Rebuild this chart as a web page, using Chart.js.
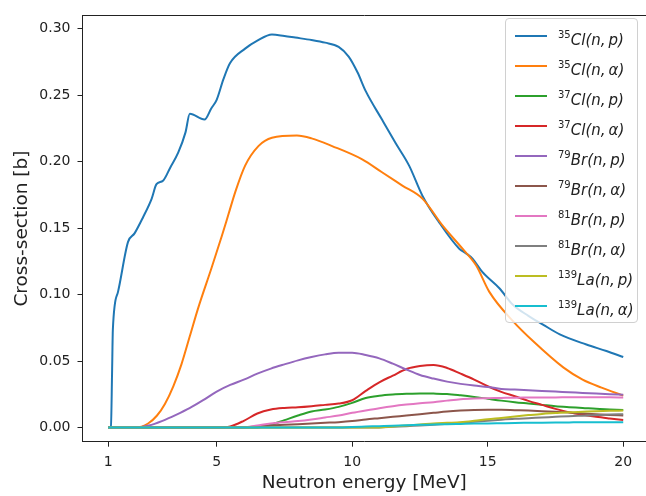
<!DOCTYPE html>
<html>
<head>
<meta charset="utf-8">
<title>Cross-sections</title>
<script src="https://cdn.jsdelivr.net/npm/chart.js"></script>
<style>
body { margin:0; background:#fff; }
#wrap { position:relative; width:646px; height:496px; }
#chart { position:absolute; left:0; top:0; }
#legend {
  position:absolute; left:505px; top:18px; width:133px; height:305px; box-sizing:border-box;
  background:rgba(255,255,255,0.8); border:1px solid #d0d0d0; border-radius:4px;
  font-family:'DejaVu Sans', sans-serif; font-size:15px; color:#222;
}
.row { position:absolute; left:0; width:100%; height:20px; }
.swatch { position:absolute; left:9px; top:9px; width:32px; height:2px; }
.txt { position:absolute; left:52px; top:0; line-height:20px; white-space:nowrap; }
.txt sup { font-size:10px; font-style:normal; position:relative; top:-1px; }
</style>
</head>
<body>
<div id="wrap">
  <canvas id="chart" width="646" height="496"></canvas>
  <div id="legend"></div>
</div>
<script>
// -------- DATA --------
const massNumbers = ['35', '35', '37', '37', '79', '79', '81', '81', '139', '139'];
const elements = ['Cl', 'Cl', 'Cl', 'Cl', 'Br', 'Br', 'Br', 'Br', 'La', 'La'];
const products = ['p', 'α', 'p', 'α', 'p', 'α', 'p', 'α', 'p', 'α'];
const colors = ['#1f77b4', '#ff7f0e', '#2ca02c', '#d62728', '#9467bd',
                '#8c564b', '#e377c2', '#7f7f7f', '#bcbd22', '#17becf'];

const xTickValues = [1, 5, 10, 15, 20];
const yTickValues = [0, 0.05, 0.10, 0.15, 0.20, 0.25, 0.30];

// 35Cl(n,p)
const cl35npE = [1.0, 1.1, 1.14, 1.17, 1.36, 1.73, 1.97, 2.28, 2.6, 2.78, 3.02, 3.3, 3.58, 3.85, 4.01, 4.55,
  4.8, 5.0, 5.25, 5.49, 6.05, 6.5, 7.04, 7.5, 7.9, 8.5, 9.0, 9.5, 9.87, 10.2, 10.5, 11.1, 11.6, 12.1,
  12.6, 13.2, 13.95, 14.2, 14.44, 14.8, 15.43, 15.93, 16.5, 17.04, 17.66, 18.64, 19.38, 20.0];
const cl35np = [0, 0.0007, 0.04, 0.0737, 0.102, 0.1396, 0.146, 0.158, 0.172, 0.183, 0.1856, 0.196, 0.2067,
  0.222, 0.236, 0.2316, 0.240, 0.2465, 0.262, 0.274, 0.285, 0.291, 0.2957, 0.2945, 0.2933, 0.2915, 0.2895,
  0.2863, 0.279, 0.267, 0.253, 0.2316, 0.214, 0.197, 0.174, 0.1545, 0.1345, 0.131, 0.127, 0.117, 0.1047,
  0.0923, 0.084, 0.0774, 0.070, 0.0624, 0.0575, 0.053];

// 35Cl(n,alpha)
const cl35naE = [1, 2.0, 2.47, 2.8, 3.09, 3.4, 3.7, 4.0, 4.32, 4.81, 5.19, 5.43, 5.7, 6.05, 6.54, 7.04, 7.96,
  8.5, 9.26, 10.37, 11.1, 11.85, 12.6, 13.33, 14.07, 14.57, 15.06, 15.93, 16.67, 17.8, 18.5, 19.2, 20.0];
const cl35na = [0, 0, 0.003, 0.009, 0.0177, 0.031, 0.0475, 0.068, 0.09, 0.12, 0.144, 0.16, 0.178, 0.197,
  0.2117, 0.218, 0.2196, 0.2175, 0.2117, 0.2017, 0.192, 0.182, 0.172, 0.152, 0.1345, 0.122, 0.102, 0.080,
  0.065, 0.045, 0.036, 0.030, 0.024];

// common energy grid for the smaller channels
const energy = [1, 2, 2.5, 3, 3.5, 4, 4.5, 5, 5.5, 6, 6.5, 7, 7.5, 8, 8.5, 9, 9.5, 10, 10.5, 11, 11.5, 12,
  12.5, 13, 13.5, 14, 14.5, 15, 15.5, 16, 16.5, 17, 17.5, 18, 18.5, 19, 19.5, 20];

const cl37np = [0, 0, 0, 0, 0, 0, 0, 0, 0, 0, 0, 0.002, 0.0055, 0.009, 0.012, 0.0135, 0.0155, 0.0185, 0.0222,
  0.0239, 0.0248, 0.0253, 0.0256, 0.0255, 0.0252, 0.0242, 0.023, 0.0216, 0.0202, 0.019, 0.018, 0.017, 0.016,
  0.0153, 0.0147, 0.014, 0.0136, 0.0132];
const cl37na = [0, 0, 0, 0, 0, 0, 0, 0, 0.0008, 0.005, 0.0105, 0.0135, 0.0147, 0.0152, 0.016, 0.017, 0.018,
  0.0205, 0.0275, 0.034, 0.039, 0.044, 0.0462, 0.047, 0.0448, 0.0405, 0.036, 0.031, 0.0268, 0.0235, 0.020,
  0.017, 0.014, 0.0114, 0.0095, 0.008, 0.0068, 0.0057];
const br79np = [0, 0, 0.0015, 0.005, 0.0095, 0.0145, 0.0205, 0.027, 0.032, 0.036, 0.0405, 0.0443, 0.0475,
  0.0505, 0.053, 0.055, 0.0562, 0.0562, 0.0545, 0.052, 0.048, 0.0436, 0.0395, 0.0368, 0.0345, 0.0328, 0.0315,
  0.0305, 0.029, 0.0285, 0.028, 0.0275, 0.027, 0.0265, 0.026, 0.0255, 0.025, 0.0246];
const br79na = [0, 0, 0, 0, 0, 0, 0, 0, 0, 0, 0.0008, 0.0015, 0.002, 0.0025, 0.003, 0.0035, 0.004, 0.0048,
  0.006, 0.007, 0.008, 0.009, 0.010, 0.011, 0.012, 0.0127, 0.0132, 0.0134, 0.0133, 0.013, 0.0127, 0.0123,
  0.0118, 0.0112, 0.0105, 0.0099, 0.0094, 0.009];
const br81np = [0, 0, 0, 0, 0, 0, 0, 0, 0, 0, 0.0015, 0.003, 0.004, 0.0048, 0.006, 0.0075, 0.009, 0.011,
  0.0128, 0.0145, 0.016, 0.0172, 0.0182, 0.019, 0.0202, 0.0213, 0.0218, 0.022, 0.0222, 0.0224, 0.0225,
  0.0226, 0.0226, 0.0227, 0.0227, 0.0227, 0.0227, 0.0226];
const br81na = [0, 0, 0, 0, 0, 0, 0, 0, 0, 0, 0, 0, 0, 0, 0, 0, 0, 0, 0, 0, 0.0005, 0.001, 0.0015, 0.002,
  0.0028, 0.0035, 0.0043, 0.005, 0.0058, 0.0065, 0.007, 0.0075, 0.008, 0.0085, 0.0089, 0.0093, 0.0097, 0.010];
const la139np = [0, 0, 0, 0, 0, 0, 0, 0, 0, 0, 0, 0, 0, 0, 0, 0, 0, 0, 0, 0, 0.0008, 0.0015, 0.0022, 0.003,
  0.0035, 0.004, 0.005, 0.0062, 0.0072, 0.0083, 0.0093, 0.0102, 0.0108, 0.0114, 0.0118, 0.0122, 0.0125, 0.0127];
const la139na = [0, 0, 0, 0, 0, 0, 0, 0, 0, 0, 0, 0, 0, 0, 0, 0, 0, 0.0004, 0.0007, 0.001, 0.0013, 0.0017,
  0.002, 0.0022, 0.0025, 0.0027, 0.0029, 0.003, 0.0032, 0.0034, 0.0035, 0.0036, 0.0037, 0.0038, 0.0039,
  0.0039, 0.004, 0.004];

const seriesE = [cl35npE, cl35naE, energy, energy, energy, energy, energy, energy, energy, energy];
const seriesXs = [cl35np, cl35na, cl37np, cl37na, br79np, br79na, br81np, br81na, la139np, la139na];

// -------- BUILD DATASETS --------
const datasets = seriesXs.map((ys, i) => ({
  label: massNumbers[i] + elements[i] + '(n,' + products[i] + ')',
  data: ys.map((y, j) => ({ x: seriesE[i][j], y: y })),
  borderColor: colors[i],
  backgroundColor: colors[i],
  borderWidth: 2,
  pointRadius: 0,
  fill: false,
  cubicInterpolationMode: 'monotone',
  order: seriesXs.length - i   // later series on top, like matplotlib
}));

// legend drawn as html so superscripts / italics stay real text
const htmlLegend = {
  id: 'htmlLegend',
  afterUpdate(chart) {
    const box = document.getElementById('legend');
    box.innerHTML = '';
    chart.data.datasets.forEach((ds, i) => {
      const row = document.createElement('div');
      row.className = 'row';
      row.style.top = (7 + 30 * i) + 'px';
      const sw = document.createElement('span');
      sw.className = 'swatch';
      sw.style.background = ds.borderColor;
      const txt = document.createElement('span');
      txt.className = 'txt';
      txt.innerHTML = '<sup>' + massNumbers[i] + '</sup><i>' + elements[i] + '(n,&thinsp;' + products[i] + ')</i>';
      row.appendChild(sw);
      row.appendChild(txt);
      box.appendChild(row);
    });
  }
};

const tickFont = { family: 'DejaVu Sans', size: 14 };
const titleFont = { family: 'DejaVu Sans', size: 18.5 };
const axisColor = '#222';

new Chart(document.getElementById('chart'), {
  type: 'line',
  data: { datasets: datasets },
  plugins: [htmlLegend],
  options: {
    responsive: false,
    animation: false,
    devicePixelRatio: 1,
    layout: { padding: 0 },
    plugins: {
      legend: { display: false },
      tooltip: { enabled: false }
    },
    scales: {
      x: {
        type: 'linear',
        position: 'bottom',
        min: 0.05,
        max: 20.84,
        afterBuildTicks: (axis) => { axis.ticks = xTickValues.map(v => ({ value: v })); },
        afterFit: (axis) => { axis.height = 54.3; },
        ticks: { color: axisColor, font: tickFont, padding: 7, maxRotation: 0, callback: v => String(v) },
        grid: { display: true, drawOnChartArea: false, drawTicks: true, tickLength: 5, tickColor: axisColor },
        border: { display: true, color: axisColor, width: 1 },
        title: { display: true, text: 'Neutron energy [MeV]', color: axisColor, font: titleFont, padding: { top: 0, bottom: 2 } }
      },
      xTop: {
        type: 'linear',
        axis: 'x',
        position: 'top',
        min: 0.05,
        max: 20.84,
        afterFit: (axis) => { axis.height = 11.6; },
        ticks: { display: false },
        grid: { display: false, drawTicks: false },
        border: { display: true, color: axisColor, width: 1 }
      },
      y: {
        type: 'linear',
        position: 'left',
        min: -0.0107,
        max: 0.31,
        afterBuildTicks: (axis) => { axis.ticks = yTickValues.map(v => ({ value: v })); },
        afterFit: (axis) => { axis.width = 82.5; },
        ticks: { color: axisColor, font: tickFont, padding: 7, callback: v => v.toFixed(2) },
        grid: { display: true, drawOnChartArea: false, drawTicks: true, tickLength: 5, tickColor: axisColor },
        border: { display: true, color: axisColor, width: 1 },
        title: { display: true, text: 'Cross-section [b]', color: axisColor, font: titleFont, padding: { top: 11, bottom: 0 } }
      }
    }
  }
});
</script>
</body>
</html>
